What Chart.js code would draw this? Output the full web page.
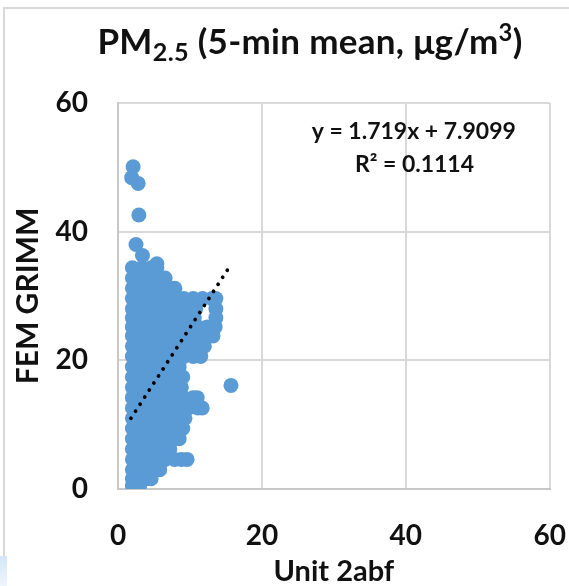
<!DOCTYPE html>
<html>
<head>
<meta charset="utf-8">
<script src="https://cdn.jsdelivr.net/npm/chart.js@4.4.1/dist/chart.umd.min.js"></script>
<style>
  html, body { margin: 0; padding: 0; background: #fff; }
  #wrap { position: relative; width: 569px; height: 586px; overflow: hidden; }
  #frame { position: absolute; left: 3px; top: 7px; width: 620px; height: 620px;
    border-top: 2px solid #d9d9d9; border-left: 2px solid #d9d9d9; }
  #tab { position: absolute; left: 0; top: 556px; width: 7px; height: 30px;
    background: linear-gradient(to bottom, #d3e6f6, #eef5fc); }
  canvas { position: absolute; left: 0; top: 0; }
  #title { position: absolute; left: 0; top: 23px; width: 620px; text-align: center;
    font: bold 35px Lato, sans-serif; line-height: 35px; letter-spacing: 0.3px;
    color: #111; white-space: nowrap; }
  #title .sub { font-size: 0.72em; position: relative; top: 0.28em; }
  #title .sup { font-size: 0.68em; position: relative; top: -0.55em; }
</style>
</head>
<body>
<div id="wrap">
  <div id="frame"></div>
  <div id="tab"></div>
  <canvas id="chart" width="569" height="586"></canvas>
  <div id="title">PM<span class="sub">2.5</span> (5-min mean, μg/m<span class="sup">3</span>)</div>
</div>
<script>
const axisTicks = [0, 20, 40, 60]
const xTitle = 'Unit 2abf'
const yTitle = 'FEM GRIMM'
const equation = ['y = 1.719x + 7.9099', 'R² = 0.1114']

// single readings standing apart from the cloud
const outlierX = [2.1, 1.9, 2.8, 2.9, 2.5, 3.4, 5.4, 15.7]
const outlierY = [50.1, 48.4, 47.5, 42.6, 38.0, 36.3, 35.0, 16.1]

// the dense cloud, read row by row: one y per row, the x readings along it
const cloudY = [34.4, 32.8, 31.2, 29.6, 28.0, 26.6, 25.2, 23.8, 22.2, 20.6, 19.0, 17.4,
  15.8, 14.2, 12.6, 11.0, 9.4, 7.8, 6.2, 4.6, 3.0, 1.6, 0.5]
const cloudX = [
  [2.0, 3.3, 4.6, 5.4],
  [2.0, 2.65, 3.95, 5.25, 6.55],
  [2.0, 3.3, 4.6, 5.9, 7.2, 7.9],
  [2.0, 2.65, 3.95, 5.25, 6.55, 7.85, 9.15, 10.45, 11.75, 13.05, 13.6],
  [2.0, 3.3, 4.6, 5.9, 7.2, 8.5, 9.8, 10.8, 13.6],
  [2.0, 2.65, 3.95, 5.25, 6.55, 7.85, 9.15, 10.6, 13.6],
  [2.0, 3.3, 4.6, 5.9, 7.2, 8.5, 9.8, 11.1, 12.4, 13.5],
  [2.0, 2.65, 3.95, 5.25, 6.55, 7.85, 9.15, 10.45, 11.75, 13.2],
  [2.0, 3.3, 4.6, 5.9, 7.2, 8.5, 9.8, 11.1, 12.0],
  [2.0, 2.65, 3.95, 5.25, 6.55, 7.85, 9.15, 10.45, 11.5],
  [2.0, 3.3, 4.6, 5.9, 7.2, 8.5],
  [2.0, 2.65, 3.95, 5.25, 6.55, 7.85, 9.0],
  [2.0, 3.3, 4.6, 5.9, 7.2, 8.5, 8.8],
  [2.0, 2.65, 3.95, 5.25, 6.55, 7.85, 9.15, 10.45, 11.0],
  [2.0, 3.3, 4.6, 5.9, 7.2, 8.5, 9.8, 11.1, 11.7],
  [2.0, 2.65, 3.95, 5.25, 6.55, 7.85, 9.3],
  [2.0, 3.3, 4.6, 5.9, 7.2, 8.5, 9.0],
  [2.0, 2.65, 3.95, 5.25, 6.55, 7.85, 8.5],
  [2.0, 3.3, 4.6, 5.9, 7.2],
  [2.0, 2.65, 3.95, 5.25, 6.55, 7.85, 8.8, 9.6],
  [2.0, 3.3, 4.6, 5.8],
  [2.0, 2.65, 3.95, 4.6],
  [2.0, 3.0]
]

// dotted linear trendline, its two ends
const trendX = [1.8, 15.3]
const trendY = [11.0, 34.2]

const points = []
cloudY.forEach((y, i) => {
  cloudX[i].forEach(x => points.push({ x: x, y: y }))
})
outlierX.forEach((x, i) => points.push({ x: x, y: outlierY[i] }))
const trend = trendX.map((x, i) => ({ x: x, y: trendY[i] }))

const FONT = 'Lato, sans-serif'
const INK = '#111'
const GRID = '#d9d9d9'

const equationLabel = {
  id: 'equationLabel',
  afterDatasetsDraw (chart) {
    const { ctx, scales: { x, y } } = chart
    ctx.save()
    ctx.font = 'bold 23px ' + FONT
    ctx.fillStyle = INK
    ctx.textAlign = 'center'
    ctx.textBaseline = 'middle'
    ctx.fillText(equation[0], x.getPixelForValue(41.1), y.getPixelForValue(55.6))
    ctx.fillText(equation[1], x.getPixelForValue(41.2), y.getPixelForValue(50.5))
    ctx.restore()
  }
}

const setTicks = scale => { scale.ticks = axisTicks.map(v => ({ value: v })) }

new Chart(document.getElementById('chart'), {
  type: 'scatter',
  data: {
    datasets: [
      {
        data: trend,
        showLine: true,
        borderColor: '#000',
        borderWidth: 3.8,
        borderDash: [0.01, 8.4],
        borderCapStyle: 'round',
        pointRadius: 0,
        fill: false
      },
      {
        data: points,
        backgroundColor: '#5b9bd5',
        borderWidth: 0,
        pointRadius: 7.5,
        pointHoverRadius: 7.5
      }
    ]
  },
  options: {
    responsive: false,
    animation: false,
    events: [],
    layout: { padding: { top: 103, right: 19, bottom: 0, left: 0 } },
    plugins: {
      legend: { display: false },
      tooltip: { enabled: false }
    },
    scales: {
      x: {
        type: 'linear',
        min: 0,
        max: 60,
        afterBuildTicks: setTicks,
        afterFit: s => { s.height = 97 },
        grid: { color: GRID, lineWidth: 2, drawTicks: true, tickLength: 27, tickColor: 'rgba(0,0,0,0)' },
        border: { color: '#c8c8c8', width: 2 },
        ticks: { padding: 3, color: INK, font: { family: FONT, size: 28, weight: 'bold' } },
        title: {
          display: true,
          text: xTitle,
          color: INK,
          padding: 0,
          font: { family: FONT, size: 29, weight: 'bold', lineHeight: 1 }
        }
      },
      y: {
        type: 'linear',
        min: 0,
        max: 60,
        afterBuildTicks: setTicks,
        afterFit: s => { s.width = 118 },
        grid: { color: GRID, lineWidth: 2, drawTicks: false },
        border: { color: '#c8c8c8', width: 2 },
        ticks: { padding: 30, color: INK, font: { family: FONT, size: 28, weight: 'bold' } },
        title: {
          display: true,
          text: yTitle,
          color: INK,
          padding: { top: 13, bottom: 0 },
          font: { family: FONT, size: 30, weight: 'bold', lineHeight: 1 }
        }
      }
    }
  },
  plugins: [equationLabel]
})
</script>
</body>
</html>
